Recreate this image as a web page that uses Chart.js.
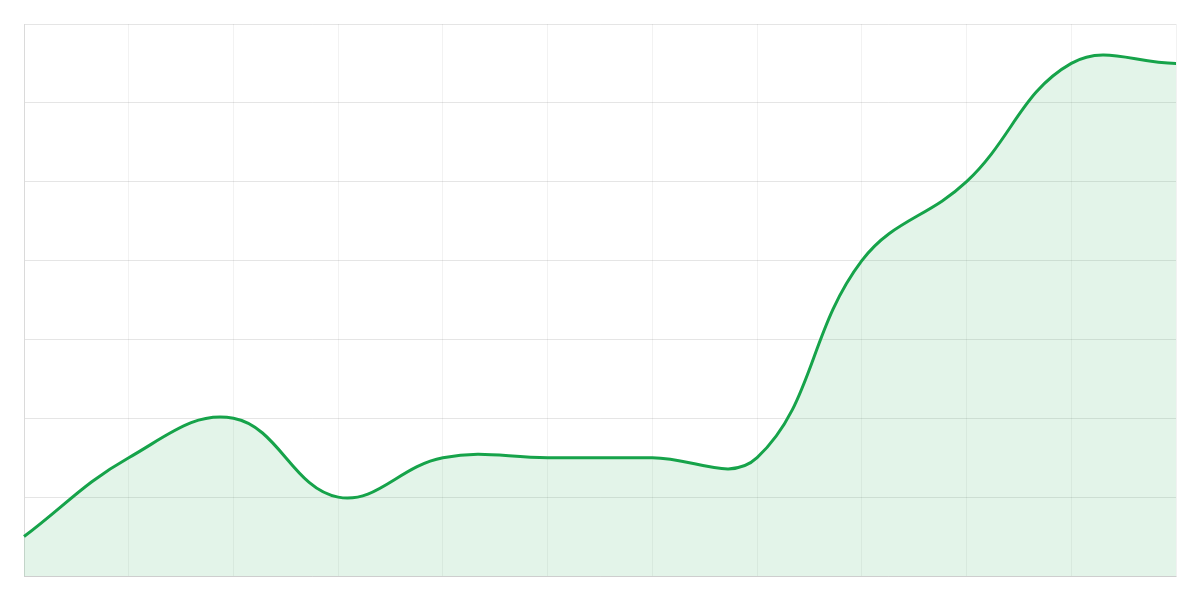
<!DOCTYPE html>
<html>
<head>
<meta charset="utf-8">
<script src="https://cdn.jsdelivr.net/npm/chart.js@4/dist/chart.umd.min.js"></script>
<style>
  html, body { margin: 0; padding: 0; background: #fff; }
  #wrap { width: 1200px; height: 600px; }
</style>
</head>
<body>
<div id="wrap"><canvas id="chart" width="1200" height="600"></canvas></div>
<script>
const labels = ["Jan", "Feb", "Mar", "Apr", "May", "Jun", "Jul", "Aug", "Sep", "Oct", "Nov", "Dec"];
const values = [5, 15, 20, 10, 15, 15, 15, 15, 40, 50, 65, 65];

const data = {
  labels: labels,
  datasets: [
    {
      label: "Value",
      data: values,
      borderColor: "#16a34a",
      backgroundColor: "rgba(22, 163, 74, 0.12)",
      borderWidth: 3,
      fill: true,
      tension: 0.4,
      pointRadius: 0,
      pointHoverRadius: 0,
    },
  ],
};

const config = {
  type: "line",
  data: data,
  options: {
    responsive: false,
    animation: false,
    layout: { padding: 24 },
    plugins: {
      legend: { display: false },
      tooltip: { enabled: false },
    },
    scales: {
      x: {
        ticks: { display: false },
        grid: { color: "rgba(0,0,0,0.05)", drawTicks: false },
        border: { color: "rgba(0,0,0,0.1)" },
      },
      y: {
        min: 0,
        max: 70,
        ticks: { display: false, stepSize: 10 },
        grid: { color: "rgba(0,0,0,0.1)", drawTicks: false },
        border: { color: "rgba(0,0,0,0.1)" },
      },
    },
  },
};

const ctx = document.getElementById("chart").getContext("2d");
const chart = new Chart(ctx, config);
</script>
</body>
</html>
